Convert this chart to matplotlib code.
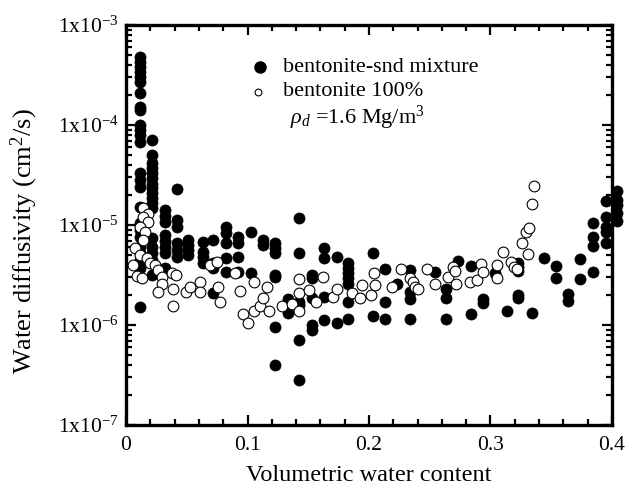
import numpy as np
import matplotlib
matplotlib.use("Agg")
from matplotlib import pyplot as plt
from matplotlib.ticker import LogLocator, FixedLocator, MultipleLocator, NullFormatter


# =============================================================================
# data
# =============================================================================

# bentonite-sand mixture (filled)
mix_x = ([0.0115] * 25 + [0.021] * 17 + [0.032] * 8 + [0.042] * 6 + [0.051] * 4
         + [0.063] * 4 + [0.072] * 4 + [0.082] * 5 + [0.092] * 4 + [0.103] * 2
         + [0.113] * 2 + [0.123] * 7 + [0.133] * 2 + [0.142] * 6 + [0.153] * 5
         + [0.163] * 4 + [0.174] * 2 + [0.183] * 7 + [0.203] * 2 + [0.213] * 3
         + [0.223] + [0.234] * 4 + [0.254] + [0.263] * 3 + [0.273] + [0.284] * 2
         + [0.294] * 2 + [0.304] + [0.314] + [0.323] * 5 + [0.334] + [0.344]
         + [0.354] * 2 + [0.364] * 2 + [0.374] * 2 + [0.384] * 4 + [0.395] * 5
         + [0.404] * 5)
mix_d = [4.8e-4, 4.3e-4, 3.8e-4, 3.4e-4, 3.0e-4, 2.7e-4, 2.1e-4, 1.5e-4, 1.4e-4,
         1.0e-4, 8.9e-5, 7.9e-5, 6.8e-5, 3.3e-5, 2.8e-5, 2.4e-5, 1.5e-5, 1.05e-5,
         8.9e-6, 7.6e-6, 6.0e-6, 5.2e-6, 4.5e-6, 3.7e-6, 1.5e-6,
         7.1e-5, 5.0e-5, 4.2e-5, 3.7e-5, 3.3e-5, 2.95e-5, 2.6e-5, 2.35e-5, 2.1e-5,
         1.86e-5, 1.66e-5, 1.48e-5, 7.4e-6, 6.0e-6, 5.2e-6, 4.5e-6, 3.2e-6,
         1.41e-5, 1.23e-5, 1.07e-5, 7.9e-6, 6.9e-6, 6.0e-6, 5.2e-6, 3.7e-6,
         2.3e-5, 1.12e-5, 9.5e-6, 6.6e-6, 5.6e-6, 4.8e-6,
         7.1e-6, 6.3e-6, 5.6e-6, 5.0e-6,
         6.8e-6, 5.4e-6, 4.8e-6, 4.2e-6,
         7.1e-6, 4.2e-6, 3.7e-6, 2.1e-6,
         9.5e-6, 8.3e-6, 6.6e-6, 4.7e-6, 3.4e-6,
         7.6e-6, 6.6e-6, 4.8e-6, 3.4e-6,
         8.5e-6, 3.3e-6,
         7.1e-6, 6.3e-6,
         6.6e-6, 5.9e-6, 5.2e-6, 3.16e-6, 3.0e-6, 9.5e-7, 4.0e-7,
         1.82e-6, 1.32e-6,
         1.17e-5, 5.2e-6, 1.7e-6, 1.58e-6, 7.1e-7, 2.8e-7,
         3.16e-6, 2.95e-6, 1.86e-6, 1.0e-6, 8.9e-7,
         5.9e-6, 4.7e-6, 1.9e-6, 1.12e-6,
         4.8e-6, 1.05e-6,
         4.2e-6, 3.7e-6, 3.3e-6, 2.95e-6, 2.6e-6, 1.7e-6, 1.15e-6,
         5.2e-6, 1.23e-6,
         3.6e-6, 1.7e-6, 1.15e-6,
         2.6e-6,
         3.55e-6, 2.14e-6, 1.82e-6, 1.15e-6,
         3.4e-6,
         2.3e-6, 1.86e-6, 1.15e-6,
         4.4e-6,
         3.9e-6, 1.29e-6,
         1.82e-6, 1.66e-6,
         3.3e-6,
         1.38e-6,
         4.2e-6, 3.8e-6, 3.5e-6, 2.0e-6, 1.86e-6,
         1.32e-6,
         4.7e-6,
         3.9e-6, 2.95e-6,
         2.04e-6, 1.74e-6,
         4.6e-6, 2.9e-6,
         1.05e-5, 7.6e-6, 6.2e-6, 3.4e-6,
         1.74e-5, 1.2e-5, 9.5e-6, 8.5e-6, 6.6e-6,
         2.2e-5, 1.78e-5, 1.58e-5, 1.32e-5, 1.1e-5]

# bentonite 100% (open)
bent_x = [0.014, 0.018, 0.014, 0.018, 0.0115, 0.016, 0.014, 0.007, 0.0115, 0.017,
          0.020, 0.024, 0.006, 0.026, 0.009, 0.013, 0.030, 0.030, 0.026, 0.038,
          0.041, 0.039, 0.039, 0.049, 0.053, 0.061, 0.061, 0.069, 0.075, 0.076,
          0.077, 0.090, 0.094, 0.096, 0.100, 0.105, 0.105, 0.110, 0.113, 0.116,
          0.118, 0.128, 0.137, 0.142, 0.142, 0.142, 0.151, 0.156, 0.162, 0.170,
          0.174, 0.186, 0.193, 0.194, 0.202, 0.204, 0.205, 0.219, 0.226, 0.234,
          0.236, 0.238, 0.240, 0.248, 0.254, 0.265, 0.269, 0.271, 0.272, 0.283,
          0.289, 0.292, 0.294, 0.305, 0.305, 0.310, 0.317, 0.319, 0.322, 0.326,
          0.329, 0.332, 0.331, 0.334, 0.336]
bent_d = [1.48e-5, 1.29e-5, 1.2e-5, 1.07e-5, 9.5e-6, 8.5e-6, 7.1e-6, 5.9e-6, 5.0e-6, 4.7e-6,
          4.2e-6, 4.0e-6, 4.0e-6, 3.55e-6, 3.1e-6, 2.95e-6, 3.0e-6, 2.6e-6, 2.14e-6, 3.3e-6,
          3.2e-6, 2.3e-6, 1.55e-6, 2.14e-6, 2.4e-6, 2.7e-6, 2.14e-6, 4.0e-6, 4.3e-6, 2.4e-6,
          1.7e-6, 3.3e-6, 2.2e-6, 1.29e-6, 1.05e-6, 2.7e-6, 1.38e-6, 1.55e-6, 1.86e-6, 2.4e-6,
          1.38e-6, 1.55e-6, 1.62e-6, 1.38e-6, 2.9e-6, 2.1e-6, 2.24e-6, 1.7e-6, 3.0e-6, 1.9e-6,
          2.3e-6, 2.1e-6, 1.86e-6, 2.5e-6, 2.0e-6, 3.3e-6, 2.5e-6, 2.4e-6, 3.6e-6, 2.95e-6,
          2.7e-6, 2.4e-6, 2.3e-6, 3.6e-6, 2.6e-6, 3.0e-6, 3.8e-6, 3.5e-6, 2.6e-6, 2.7e-6,
          2.8e-6, 4.1e-6, 3.4e-6, 4.0e-6, 2.95e-6, 5.4e-6, 4.3e-6, 3.8e-6, 3.6e-6, 6.6e-6,
          8.5e-6, 9.3e-6, 5.1e-6, 1.62e-5, 2.45e-5]

x_ticks = [0, 0.1, 0.2, 0.3, 0.4]
x_ticklabels = ["0", "0.1", "0.2", "0.3", "0.4"]
y_ticks = [1e-7, 1e-6, 1e-5, 1e-4, 1e-3]
y_ticklabels = ["1x10$^{-7}$", "1x10$^{-6}$", "1x10$^{-5}$", "1x10$^{-4}$", "1x10$^{-3}$"]

legend_labels = ["bentonite-snd mixture", "bentonite 100%"]
density_note = r"$\rho_d$ =1.6 Mg/m$^3$"


# =============================================================================
# plot
# =============================================================================

plt.rcParams['font.family'] = ['Liberation Serif', 'DejaVu Serif']
plt.rcParams['mathtext.fontset'] = 'custom'
plt.rcParams['mathtext.rm'] = 'Liberation Serif'
plt.rcParams['mathtext.it'] = 'Liberation Serif:italic'

fig = plt.figure(figsize=(6.27, 4.95), dpi=100)
ax = fig.add_axes([0.201, 0.1414, 0.775, 0.808])

ax.scatter(mix_x, mix_d, s=64, c='black', edgecolors='black', linewidths=0.5,
           clip_on=False, zorder=3)
ax.scatter(bent_x, bent_d, s=60, facecolors='white', edgecolors='black',
           linewidths=0.8, clip_on=False, zorder=4)

ax.set_yscale('log')
ax.set_xlim(0, 0.4)
ax.set_ylim(1e-7, 1e-3)

ax.xaxis.set_major_locator(FixedLocator(x_ticks))
ax.set_xticklabels(x_ticklabels)
ax.xaxis.set_minor_locator(MultipleLocator(0.02))
ax.yaxis.set_major_locator(FixedLocator(y_ticks))
ax.set_yticklabels(y_ticklabels)
ax.yaxis.set_minor_locator(LogLocator(base=10, subs=np.arange(2, 10)))
ax.yaxis.set_minor_formatter(NullFormatter())

ax.tick_params(which='both', direction='in', top=True, right=True, width=1.6)
ax.tick_params(which='major', length=7, labelsize=15.5)
ax.tick_params(axis='y', which='major', pad=5)
ax.tick_params(axis='x', which='major', pad=8)
ax.tick_params(which='minor', length=4)
for sp in ax.spines.values():
    sp.set_linewidth(2.4)

ax.set_xlabel("Volumetric water content", fontsize=17.5, labelpad=7)
ax.set_ylabel("Water diffusivity (cm$^2$/s)", fontsize=19)
ax.yaxis.set_label_coords(-0.178, 0.46)

# legend drawn by hand, as in the original
ax.scatter([0.110], [3.8e-4], s=64, c='black', zorder=5)
ax.scatter([0.109], [2.14e-4], s=24, facecolors='white', edgecolors='black',
           linewidths=0.8, zorder=5)
ax.text(0.129, 3.8e-4, legend_labels[0], fontsize=16, va='center', ha='left')
ax.text(0.129, 2.14e-4, legend_labels[1], fontsize=16, va='center', ha='left')
ax.text(0.135, 1.17e-4, density_note, fontsize=16, va='center', ha='left')

fig.savefig("out.png", dpi=100)
